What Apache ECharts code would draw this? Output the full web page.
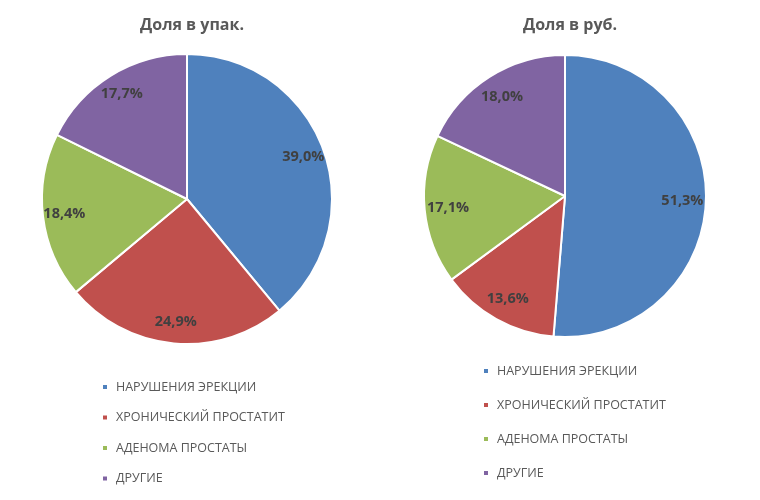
<!DOCTYPE html>
<html>
<head>
<meta charset="utf-8">
<script src="https://cdn.jsdelivr.net/npm/echarts@6/dist/echarts.min.js"></script>
<style>
  html, body { margin: 0; padding: 0; background: #fff; }
  #chart { width: 760px; height: 500px; }
</style>
</head>
<body>
<div id="chart"></div>
<script>
var categories = ['НАРУШЕНИЯ ЭРЕКЦИИ', 'ХРОНИЧЕСКИЙ ПРОСТАТИТ', 'АДЕНОМА ПРОСТАТЫ', 'ДРУГИЕ']
var packShare = [39.0, 24.9, 18.4, 17.7]
var rubShare = [51.3, 13.6, 17.1, 18.0]
var titles = ['Доля в упак.', 'Доля в руб.']
var colors = ['#4F81BD', '#C0504D', '#9BBB59', '#8064A2']

var font = '"Open Sans", "Noto Sans", sans-serif'

function toData(values) {
    return values.map(function (v, i) {
        return { name: categories[i], value: v }
    })
}

function fmt(p) {
    return p.value.toFixed(1).replace('.', ',') + '%'
}

// main pie without labels
function pie(values, center, r) {
    return {
        type: 'pie',
        center: center,
        radius: r,
        startAngle: 90,
        clockwise: true,
        label: { show: false },
        labelLine: { show: false },
        itemStyle: { borderColor: '#fff', borderWidth: 2 },
        emphasis: { disabled: true },
        data: toData(values)
    }
}

// invisible ring, only used to put labels further out than 'inside' would
function labelRing(values, center, r0, r) {
    return {
        type: 'pie',
        center: center,
        radius: [r0, r],
        startAngle: 90,
        clockwise: true,
        silent: true,
        itemStyle: { color: 'transparent', borderWidth: 0 },
        emphasis: { disabled: true },
        label: {
            show: true,
            position: 'inside',
            formatter: fmt,
            color: '#404040',
            fontSize: 14.5,
            fontWeight: 'bold',
            fontFamily: font
        },
        labelLine: { show: false },
        data: toData(values)
    }
}

function legend(left, top, gap) {
    return {
        orient: 'vertical',
        left: left,
        top: top,
        padding: 0,
        itemWidth: 6,
        itemHeight: 6,
        itemGap: gap,
        icon: 'rect',
        selectedMode: false,
        textStyle: {
            color: '#595959',
            fontSize: 12.5,
            fontFamily: font,
            lineHeight: 14,
            padding: [0, 0, 0, 3]
        },
        data: categories.map(function (c, i) {
            return { name: c, itemStyle: { color: colors[i] } }
        })
    }
}

var chart = echarts.init(document.getElementById('chart'))
chart.setOption({
    backgroundColor: '#fff',
    animation: false,
    color: colors,
    title: [
        {
            text: titles[0], left: 187, top: 12, textAlign: 'center',
            textStyle: { color: '#595959', fontSize: 16, fontWeight: 'bold', fontFamily: font }
        },
        {
            text: titles[1], left: 565, top: 12, textAlign: 'center',
            textStyle: { color: '#595959', fontSize: 16, fontWeight: 'bold', fontFamily: font }
        }
    ],
    legend: [
        legend(101, 380, 16.5),
        legend(482, 364, 20)
    ],
    series: [
        pie(packShare, [187, 199], 145),
        pie(rubShare, [565, 196], 141),
        labelRing(packShare, [187, 199], 96, 145),
        labelRing(rubShare, [565, 196], 88, 141)
    ]
})
</script>
</body>
</html>
